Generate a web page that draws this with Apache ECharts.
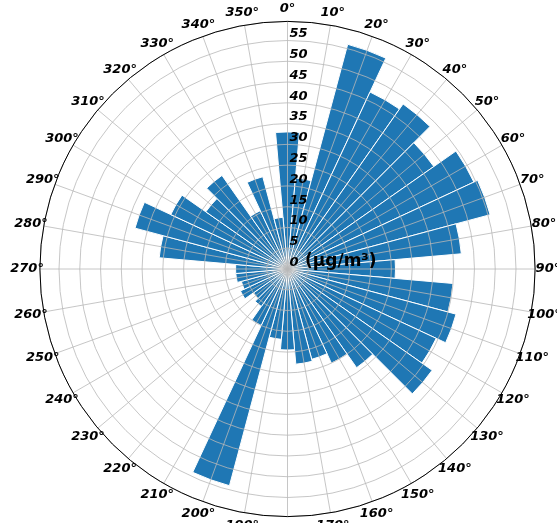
<!DOCTYPE html>
<html>
<head>
<meta charset="utf-8">
<script src="https://cdn.jsdelivr.net/npm/echarts@6/dist/echarts.min.js"></script>
<style>
html,body{margin:0;padding:0;background:#fff;}
#chart{width:557px;height:523px;}
</style>
</head>
<body>
<div id="chart"></div>
<script>
// Wind directions (degrees, bar centres) and concentrations
const directions = [0,10,20,30,40,50,60,70,80,90,100,110,120,130,140,150,160,170,
                    180,190,200,210,220,230,240,250,260,270,280,290,300,310,320,330,340,350];
const concentration = [33,22,56,47,48.5,43,49.5,50.5,42,26,40,42,39.5,42.5,29,25,22.5,23,
                       19.5,17,54,15,11,10,12.5,11.5,12.5,12.5,31,38,31,24,27.5,15.5,23,12.5];
const radialTicks = [0,5,10,15,20,25,30,35,40,45,50,55];
const angleTicks = [0,10,20,30,40,50,60,70,80,90,100,110,120,130,140,150,160,170,
                    180,190,200,210,220,230,240,250,260,270,280,290,300,310,320,330,340,350];
const unitLabel = '(μg/m³)';

const CX = 287.5, CY = 269, R = 247.6, RMAX = 59.6;
const LABEL_PAD = 12.8;   // angle labels are centred this far outside the outer circle
const font = 'DejaVu Sans';

const chart = echarts.init(document.getElementById('chart'));
chart.setOption({
  animation: false,
  backgroundColor: '#fff',
  polar: [
    {center: [CX, CY], radius: [0, R]},
    {center: [CX, CY], radius: [0, R]},
    {center: [CX, CY], radius: [0, R + LABEL_PAD]}
  ],
  angleAxis: [
    {
      polarIndex: 0, type: 'value', min: 0, max: 360, interval: 10,
      startAngle: 90, clockwise: true, z: 10,
      axisLine: {show: true, lineStyle: {color: '#000', width: 1}},
      axisTick: {show: false},
      splitLine: {show: true, lineStyle: {color: '#b8b8b8', width: 0.8}},
      axisLabel: {show: false}
    },
    {
      polarIndex: 1, type: 'category', data: directions.map(String),
      startAngle: 95, clockwise: true, boundaryGap: true, show: false, z: 1
    },
    {
      polarIndex: 2, type: 'value', min: 0, max: 360, startAngle: 90,
      clockwise: true, show: false
    }
  ],
  radiusAxis: [
    {
      polarIndex: 0, type: 'value', min: 0, max: RMAX, interval: 5, z: 10,
      axisLine: {show: false}, axisTick: {show: false},
      splitLine: {show: true, lineStyle: {color: '#b8b8b8', width: 0.8}},
      axisLabel: {
        margin: -2, align: 'left', verticalAlign: 'bottom',
        color: '#000', fontFamily: font, fontSize: 13,
        fontWeight: 'bold', fontStyle: 'italic',
        formatter: v => (radialTicks.indexOf(v) >= 0 ? String(v) : '')
      }
    },
    {
      polarIndex: 1, type: 'value', min: 0, max: RMAX, show: false, z: 1
    },
    {
      polarIndex: 2, type: 'value', min: 0, max: 1, show: false
    }
  ],
  series: [
    {
      type: 'bar', coordinateSystem: 'polar', polarIndex: 1,
      data: concentration, barCategoryGap: '0%', z: 2,
      itemStyle: {color: '#1f77b4', borderColor: '#fff', borderWidth: 1}
    },
    {
      // angular tick labels, centred just outside the outer circle
      type: 'scatter', coordinateSystem: 'polar', polarIndex: 2, z: 12,
      symbolSize: 1, itemStyle: {color: 'rgba(0,0,0,0)'}, silent: true,
      data: angleTicks.map(a => [1, a]),
      label: {
        show: true, position: 'inside', color: '#000', opacity: 1,
        textBorderWidth: 0, textBorderColor: 'transparent',
        fontFamily: font, fontSize: 13, fontWeight: 'bold', fontStyle: 'italic',
        formatter: p => p.value[1] + '°'
      }
    }
  ],
  graphic: [{
    type: 'text', left: 305, top: 253, z: 20,
    style: {text: unitLabel, fill: '#000', font: 'bold 17px "DejaVu Sans"'}
  }]
});
</script>
</body>
</html>
